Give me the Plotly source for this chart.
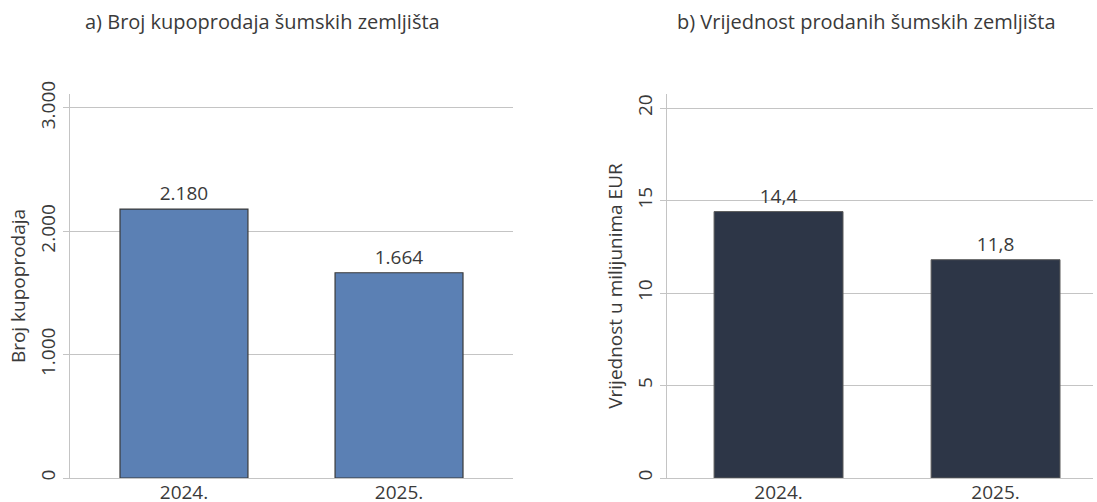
import plotly.graph_objects as go

years = ["2024.", "2025."]
broj_kupoprodaja = [2180, 1664]
vrijednost_mil_eur = [14.4, 11.8]

W, H = 1097, 502
FONT = "Open Sans"
TXT = "#3a3a3a"
GRID = "#c4c4c4"

def px_x(v):
    return v / W

def px_y(v):
    return (H - v) / H

fig = go.Figure()

fig.add_trace(go.Bar(
    x=years, y=broj_kupoprodaja, width=0.595,
    marker=dict(color="#5b80b4", line=dict(color="#3a3a3a", width=1.2)),
    texttemplate="%{y:,.0f}", textposition="outside",
    textfont=dict(size=19, color=TXT, family=FONT),
    cliponaxis=False, xaxis="x", yaxis="y", showlegend=False,
))
fig.add_trace(go.Bar(
    x=years, y=vrijednost_mil_eur, width=0.594,
    marker=dict(color="#2d3647", line=dict(color="#5a5a5a", width=1)),
    texttemplate="%{y:.1f}", textposition="outside",
    textfont=dict(size=19, color=TXT, family=FONT),
    cliponaxis=False, xaxis="x2", yaxis="y2", showlegend=False,
))

ydom = [px_y(478), px_y(94)]
common_x = dict(
    type="category", showgrid=False, showline=True, linecolor=GRID, linewidth=1,
    ticks="", tickfont=dict(size=19, color=TXT, family=FONT), fixedrange=True,
    automargin=False, ticklabelstandoff=-3,
)
common_y = dict(
    showgrid=True, gridcolor=GRID, gridwidth=1, showline=True, linecolor=GRID,
    linewidth=1, ticks="outside", ticklen=6, tickcolor=GRID, tickangle=-90,
    tickfont=dict(size=19, color=TXT, family=FONT), zeroline=False,
    title_font=dict(size=19, color=TXT, family=FONT), title_standoff=4,
    automargin=False,
)

fig.update_layout(
    width=W, height=H,
    margin=dict(l=0, r=0, t=0, b=0, autoexpand=False),
    paper_bgcolor="white", plot_bgcolor="white",
    separators=",.",
    font=dict(family=FONT, color=TXT),
    xaxis=dict(domain=[px_x(70), px_x(513)], range=[-0.53, 1.53], anchor="y", **common_x),
    yaxis=dict(domain=ydom, range=[0, 3113], tickvals=[0, 1000, 2000, 3000],
               tickformat=",.0f", title_text="Broj kupoprodaja", anchor="x", **common_y),
    xaxis2=dict(domain=[px_x(667), px_x(1093)], range=[-0.514, 1.449], anchor="y2", **common_x),
    yaxis2=dict(domain=ydom, range=[0, 20.757], tickvals=[0, 5, 10, 15, 20],
                title_text="Vrijednost u milijunima EUR", anchor="x2", **common_y),
    annotations=[
        dict(text="a) Broj kupoprodaja šumskih zemljišta", xref="paper", yref="paper",
             x=px_x(262), y=px_y(22), xanchor="center", yanchor="middle", showarrow=False,
             font=dict(size=20, color=TXT, family=FONT)),
        dict(text="b) Vrijednost prodanih šumskih zemljišta", xref="paper", yref="paper",
             x=px_x(866), y=px_y(22), xanchor="center", yanchor="middle", showarrow=False,
             font=dict(size=20, color=TXT, family=FONT)),
    ],
)

fig.write_html("out.html")
